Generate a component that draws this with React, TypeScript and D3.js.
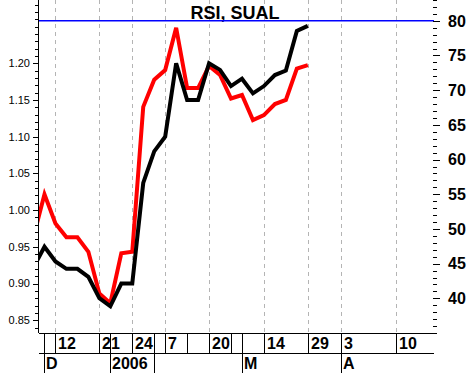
import React from 'react';
import * as d3 from "d3";

// sessions, one per trading day shown (first one sits left of the plot and is clipped)
const sessions = d3.range(-1, 25);
// SUAL close (left axis)
const price = [0.922, 0.950, 0.930, 0.920, 0.920, 0.909, 0.880, 0.869, 0.900, 0.900, 1.037, 1.080, 1.100, 1.200, 1.150, 1.150, 1.200, 1.191, 1.169, 1.179, 1.159, 1.169, 1.184, 1.190, 1.244, 1.251];
// RSI (right axis)
const rsi = [48.9, 55.0, 50.8, 48.8, 48.8, 46.7, 40.7, 39.3, 46.5, 46.7, 67.6, 71.5, 72.9, 79.0, 70.3, 70.3, 73.5, 72.2, 68.8, 69.3, 65.7, 66.4, 68.0, 68.6, 73.1, 73.6];

// day labels on the first row of the date axis
const dayIdx = [1, 5, 8, 11, 15, 20, 24, 27, 32];
const dayLabels = ["12", "21", "24", "7", "20", "14", "29", "3", "10"];
// extra separators in the day row
const daySepIdx = [0, 1, 5, 6, 8, 10, 11, 13, 15, 17, 18, 20, 24, 27, 32];
// month row
const monthIdx = [0, 6, 10, 18, 27];
const monthLabels = ["D", "2006", "", "M", "A"];

const leftMajor = [0.85, 0.90, 0.95, 1.00, 1.05, 1.10, 1.15, 1.20];
const rightMajor = [40, 45, 50, 55, 60, 65, 70, 75, 80];
const rsiLevel = 80;

const W = 472, H = 373;
const left = 39, right = 434, top = 0, bottom = 333;

export default function App() {
  const x = d3.scaleLinear().domain([-0.5, 35.5]).range([left, right]);
  const yL = d3.scaleLinear().domain([0.8326, 1.2862]).range([bottom, top]);
  const yR = d3.scaleLinear().domain([35, 83]).range([bottom, top]);

  const priceLine = d3.line<number>()
    .x((d, i) => x(sessions[i]))
    .y(d => yL(d));
  const rsiLine = d3.line<number>()
    .x((d, i) => x(sessions[i]))
    .y(d => yR(d));

  const leftMinor = d3.range(84, 129).map(v => v / 100);
  const rightMinor = d3.range(35, 84);

  const font = "'Liberation Sans', Arial, sans-serif";

  return (
    <svg width={W} height={H} style={{ position: "absolute", left: 0, top: 0, background: "#fff" }}
      fontFamily={font}>
      <defs>
        <clipPath id="plot">
          <rect x={left} y={top} width={right - left} height={bottom - top} />
        </clipPath>
      </defs>
      <rect x={0} y={0} width={W} height={H} fill="#fff" />

      {/* vertical dashed grid */}
      {dayIdx.map(k => (
        <line key={"g" + k} x1={Math.round(x(k)) + 0.5} x2={Math.round(x(k)) + 0.5} y1={top} y2={bottom}
          stroke="#b4b4b4" strokeDasharray="4,4" />
      ))}

      {/* title */}
      <text x={235} y={19} textAnchor="middle" fontSize={18} fontWeight="bold">RSI, SUAL</text>

      {/* RSI 80 level */}
      <line x1={left} x2={right} y1={yR(rsiLevel)} y2={yR(rsiLevel)} stroke="#0000ff" strokeWidth={1.5} />

      <g clipPath="url(#plot)" fill="none" strokeWidth={4} strokeLinejoin="miter">
        <path d={rsiLine(rsi) || ""} stroke="#ff0000" />
        <path d={priceLine(price) || ""} stroke="#000" />
      </g>

      {/* left axis */}
      <line x1={left - 0.5} x2={left - 0.5} y1={top} y2={bottom} stroke="#000" />
      {leftMinor.map(v => (
        <line key={"lm" + v} x1={left - 4} x2={left} y1={Math.round(yL(v)) + 0.5} y2={Math.round(yL(v)) + 0.5} stroke="#000" />
      ))}
      {leftMajor.map(v => (
        <g key={"lM" + v}>
          <line x1={left - 6} x2={left} y1={Math.round(yL(v)) + 0.5} y2={Math.round(yL(v)) + 0.5} stroke="#000" />
          <text x={30} y={yL(v)} dy="0.35em" textAnchor="end" fontSize={11}>{d3.format(".2f")(v)}</text>
        </g>
      ))}

      {/* right axis */}
      {rightMinor.map(v => (
        <line key={"rm" + v} x1={right - 1} x2={right + 3} y1={Math.round(yR(v)) + 0.5} y2={Math.round(yR(v)) + 0.5} stroke="#000" />
      ))}
      {rightMajor.map(v => (
        <g key={"rM" + v}>
          <line x1={right - 1} x2={right + 6} y1={Math.round(yR(v)) + 0.5} y2={Math.round(yR(v)) + 0.5} stroke="#000" />
          <text x={448} y={yR(v)} dy="0.36em" fontSize={16} fontWeight="bold">{v}</text>
        </g>
      ))}

      {/* date axis */}
      <line x1={left} x2={right} y1={bottom + 0.5} y2={bottom + 0.5} stroke="#000" />
      <line x1={left} x2={right} y1={353.5} y2={353.5} stroke="#000" />
      {daySepIdx.map(k => (
        <line key={"ds" + k} x1={Math.round(x(k)) + 0.5} x2={Math.round(x(k)) + 0.5} y1={bottom} y2={353} stroke="#000" />
      ))}
      {dayIdx.map((k, i) => (
        <text key={"dl" + k} x={Math.round(x(k)) + 3} y={349} fontSize={16} fontWeight="bold">{dayLabels[i]}</text>
      ))}
      {monthIdx.map((k, i) => (
        <g key={"m" + k}>
          <line x1={Math.round(x(k)) + 0.5} x2={Math.round(x(k)) + 0.5} y1={bottom} y2={H} stroke="#000" />
          <text x={Math.round(x(k)) + 2} y={369} fontSize={16} fontWeight="bold">{monthLabels[i]}</text>
        </g>
      ))}
    </svg>
  );
}
